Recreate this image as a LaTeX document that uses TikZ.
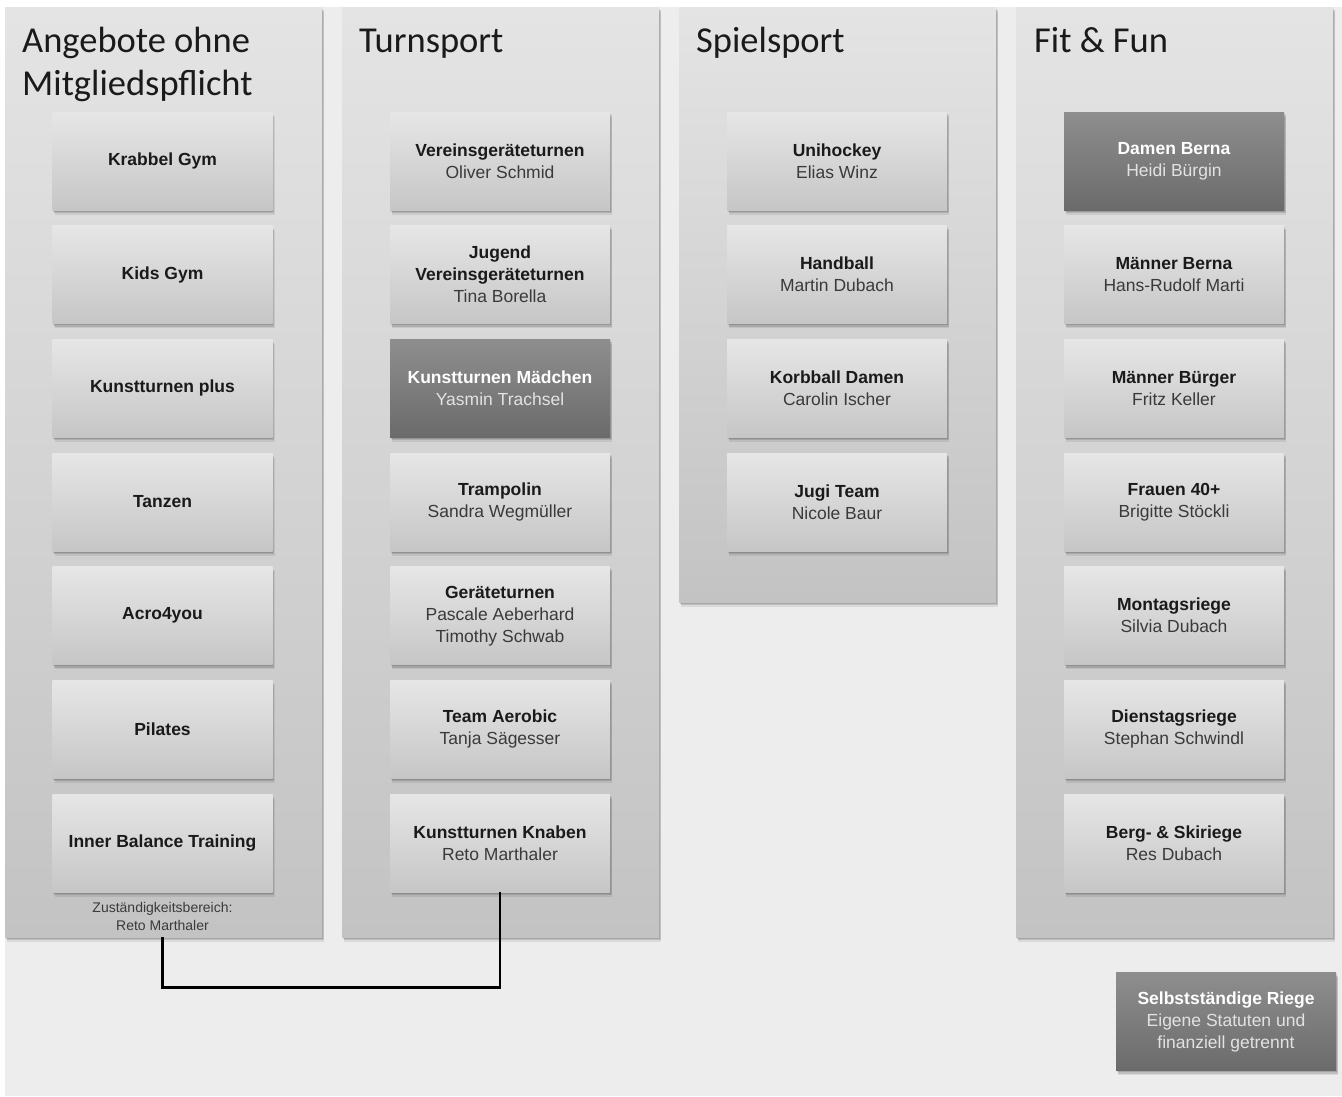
\documentclass[tikz,border=0pt]{standalone}
\usepackage{fontspec}
\setmainfont{Liberation Sans}
\newfontfamily\titlefont{Carlito}
\usetikzlibrary{shadows}
\definecolor{bg}{HTML}{EDEDED}
\definecolor{colTop}{HTML}{E4E4E4}
\definecolor{colBot}{HTML}{C3C3C3}
\definecolor{boxTop}{HTML}{E6E6E6}
\definecolor{boxBot}{HTML}{C6C6C6}
\definecolor{darkTop}{HTML}{8E8E8E}
\definecolor{darkBot}{HTML}{6B6B6B}
\definecolor{headtext}{HTML}{1A1A1A}
\definecolor{subtext}{HTML}{3A3A3A}
\definecolor{darksub}{HTML}{E2E2E2}
\newcommand\boxhead[1]{\textcolor{headtext}{\bfseries #1}}
\newcommand\darkhead[1]{\textcolor{white}{\bfseries #1}}
\begin{document}
\begin{tikzpicture}[x=1pt,y=-1pt,
  softshadow/.style={
    general shadow={fill=black,opacity=0.13,shadow xshift=0.8pt,shadow yshift=-1.5pt},
    general shadow={fill=black,opacity=0.12,shadow xshift=1.5pt,shadow yshift=-3pt},
    general shadow={fill=black,opacity=0.08,shadow xshift=2.2pt,shadow yshift=-4.5pt}},
  column/.style={rectangle,anchor=north west,minimum width=317pt,inner sep=0pt,
    top color=colTop,bottom color=colBot,softshadow},
  coltitle/.style={anchor=base west,inner sep=0pt,text=headtext,
    font=\titlefont\fontsize{36.5}{43}\selectfont},
  entry/.style={rectangle,minimum width=220pt,minimum height=98pt,inner sep=2pt,
    top color=boxTop,bottom color=boxBot,softshadow,align=center,
    text=subtext,font=\fontsize{17.5}{22}\selectfont},
  darkentry/.style={entry,top color=darkTop,bottom color=darkBot,text=darksub},
  note/.style={align=center,inner sep=0pt,text=subtext,font=\fontsize{14}{18}\selectfont},
  link/.style={draw=black,line width=2.6pt}]

\useasboundingbox (0,0) rectangle (1342,1096);
\fill[white] (0,0) rectangle (1342,1096);
\fill[bg] (5,7) rectangle (1342,1096);

% columns
\node[column,minimum height=930pt] (c1) at (5,7) {};
\node[column,minimum height=930pt] (c2) at (342,7) {};
\node[column,minimum height=595pt] (c3) at (679,7) {};
\node[column,minimum height=930pt] (c4) at (1016,7) {};

% titles
\node[coltitle] (t1) at (22,52) {\vtop{\hbox{Angebote ohne}\hbox{Mitgliedspflicht}}};
\node[coltitle] (t2) at (359,52) {Turnsport};
\node[coltitle] (t3) at (696,52) {Spielsport};
\node[coltitle] (t4) at (1034,52) {Fit \& Fun};

% column 1
\node[entry] (a1) at (162.5,161) {\boxhead{Krabbel Gym}};
\node[entry] (a2) at (162.5,274.7) {\boxhead{Kids Gym}};
\node[entry] (a3) at (162.5,388.3) {\boxhead{Kunstturnen plus}};
\node[entry] (a4) at (162.5,502) {\boxhead{Tanzen}};
\node[entry] (a5) at (162.5,615.7) {\boxhead{Acro4you}};
\node[entry] (a6) at (162.5,729.3) {\boxhead{Pilates}};
\node[entry] (a7) at (162.5,843) {\boxhead{Inner Balance Training}};
\node[note] (zust) at (162.5,916) {Zuständigkeitsbereich:\\Reto Marthaler};

% column 2
\node[entry] (b1) at (500,161) {\boxhead{Vereinsgeräteturnen}\\Oliver Schmid};
\node[entry] (b2) at (500,274.7) {\boxhead{Jugend}\\\boxhead{Vereinsgeräteturnen}\\Tina Borella};
\node[darkentry] (b3) at (500,388.3) {\darkhead{Kunstturnen Mädchen}\\Yasmin Trachsel};
\node[entry] (b4) at (500,502) {\boxhead{Trampolin}\\Sandra Wegmüller};
\node[entry] (b5) at (500,615.7) {\boxhead{Geräteturnen}\\Pascale Aeberhard\\Timothy Schwab};
\node[entry] (b6) at (500,729.3) {\boxhead{Team Aerobic}\\Tanja Sägesser};
\node[entry] (b7) at (500,843) {\boxhead{Kunstturnen Knaben}\\Reto Marthaler};

% column 3
\node[entry] (s1) at (837,161) {\boxhead{Unihockey}\\Elias Winz};
\node[entry] (s2) at (837,274.7) {\boxhead{Handball}\\Martin Dubach};
\node[entry] (s3) at (837,388.3) {\boxhead{Korbball Damen}\\Carolin Ischer};
\node[entry] (s4) at (837,502) {\boxhead{Jugi Team}\\Nicole Baur};

% column 4
\node[darkentry] (f1) at (1174,161) {\darkhead{Damen Berna}\\Heidi Bürgin};
\node[entry] (f2) at (1174,274.7) {\boxhead{Männer Berna}\\Hans-Rudolf Marti};
\node[entry] (f3) at (1174,388.3) {\boxhead{Männer Bürger}\\Fritz Keller};
\node[entry] (f4) at (1174,502) {\boxhead{Frauen 40+}\\Brigitte Stöckli};
\node[entry] (f5) at (1174,615.7) {\boxhead{Montagsriege}\\Silvia Dubach};
\node[entry] (f6) at (1174,729.3) {\boxhead{Dienstagsriege}\\Stephan Schwindl};
\node[entry] (f7) at (1174,843) {\boxhead{Berg- \& Skiriege}\\Res Dubach};

% legend
\node[darkentry] (legend) at (1226,1021.5) {\darkhead{Selbstständige Riege}\\Eigene Statuten und\\finanziell getrennt};

% connector
\coordinate (cstart) at (zust.south |- c1.south);
\draw[link] (cstart) -- ++(0,50) -| (b7.south);
\end{tikzpicture}
\end{document}
